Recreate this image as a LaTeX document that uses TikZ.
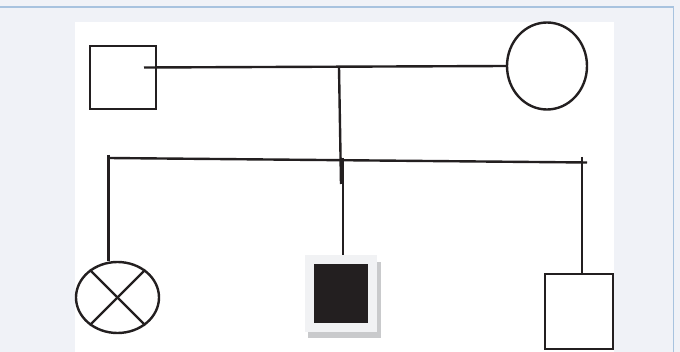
\documentclass[tikz,border=0pt]{standalone}
\usetikzlibrary{shapes.geometric}

\definecolor{pagebg}{HTML}{F0F2F7}
\definecolor{rulebl}{HTML}{A8C3DF}
\definecolor{ink}{HTML}{231F20}
\definecolor{framegray}{HTML}{F1F2F4}
\definecolor{shadowgray}{HTML}{C9CACC}

\tikzset{
	male/.style={draw=ink, line width=1.2pt, inner sep=0pt},
	female/.style={ellipse, draw=ink, line width=1.2pt, inner sep=0pt},
	link/.style={draw=ink, line width=1.2pt}
}

\begin{document}
\begin{tikzpicture}[x=0.5pt, y=-0.5pt]
		\useasboundingbox (0,0) rectangle (680,352);
		
		% Page and panel
		\fill[pagebg] (0,0) rectangle (680,352);
		\draw[rulebl, line width=0.6pt] (0,7) -- (673.5,7) -- (673.5,352);
		\fill[white] (75,22) rectangle (614,352);
		
		% Parents
		\node[male, minimum width=33pt, minimum height=31.5pt] (father) at (123,77.5) {};
		\node[female, minimum width=40pt, minimum height=43.5pt] (mother) at (547,66) {};
		
		% Marriage line and line of descent
		\coordinate (wed) at (144,67.5);
		\coordinate (drop) at (339,67.5);
		\coordinate (dend) at (341,184);
		\draw[link] (wed) -- (mother.west);
		\draw[link] (drop) -- (dend);
		
		% Sibship line
		\coordinate (sibL) at (108.5,158);
		\coordinate (sibR) at (587,162.5);
		\draw[link] (sibL) -- (sibR);
		
		% Child 1: daughter (crossed)
		\node[female, minimum width=41.5pt, minimum height=35.5pt] (daughter) at (117.5,297.5) {};
		\draw[link] (daughter.45) -- (daughter.225);
		\draw[link] (daughter.135) -- (daughter.315);
		\coordinate (dtop) at (108.5,155);
		\draw[link] (dtop) -- (dtop |- daughter.north);
		
		% Child 2: affected son (with shadow frame)
		\node[fill=shadowgray, minimum width=36.5pt, minimum height=38pt, inner sep=0pt] (sonshadow) at (344.5,300) {};
		\node[fill=framegray, minimum width=36pt, minimum height=38.5pt, inner sep=0pt] (sonframe) at (341,293.5) {};
		\node[fill=ink, minimum width=27pt, minimum height=29.5pt, inner sep=0pt] (son) at (341,293.5) {};
		\coordinate (stop) at (343,158);
		\draw[link] (stop) -- (stop |- sonframe.north);
		
		% Child 3: son
		\node[male, minimum width=34pt, minimum height=37.5pt] (brother) at (579,311.5) {};
		\coordinate (btop) at (582,157);
		\draw[link] (btop) -- (btop |- brother.north);
		
	\end{tikzpicture}
\end{document}
